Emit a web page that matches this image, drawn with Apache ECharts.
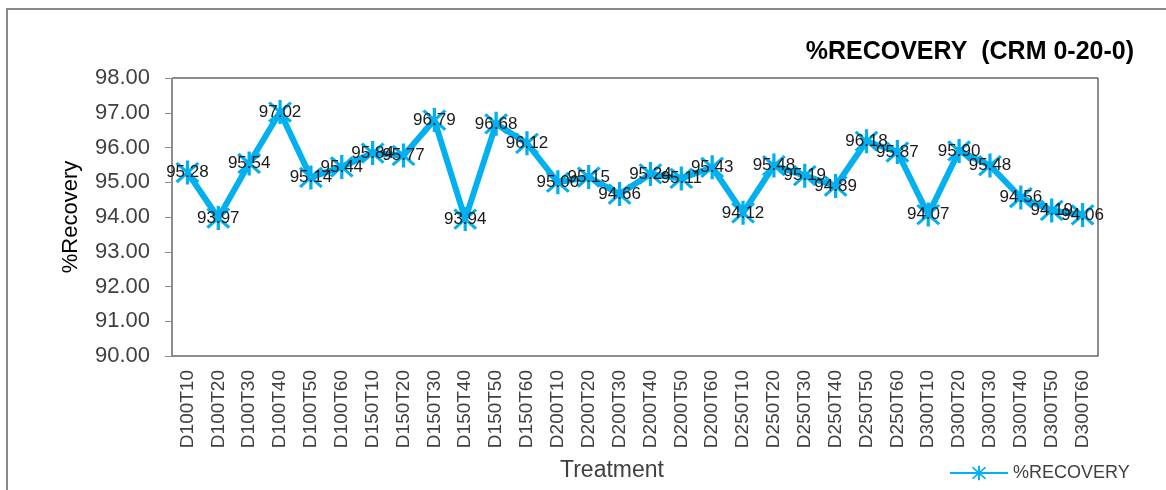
<!DOCTYPE html>
<html>
<head>
<meta charset="utf-8">
<script src="https://cdn.jsdelivr.net/npm/echarts@6/dist/echarts.min.js"></script>
<style>
  html, body { margin: 0; padding: 0; background: #fff; overflow: hidden; }
  #chart { width: 1166px; height: 490px; }
</style>
</head>
<body>
<div id="chart"></div>
<script>
// Treatment codes: dose level (D) x time (T)
const treatments = [
  'D100T10', 'D100T20', 'D100T30', 'D100T40', 'D100T50', 'D100T60',
  'D150T10', 'D150T20', 'D150T30', 'D150T40', 'D150T50', 'D150T60',
  'D200T10', 'D200T20', 'D200T30', 'D200T40', 'D200T50', 'D200T60',
  'D250T10', 'D250T20', 'D250T30', 'D250T40', 'D250T50', 'D250T60',
  'D300T10', 'D300T20', 'D300T30', 'D300T40', 'D300T50', 'D300T60'
];

// % recovery measured for each treatment
const recovery = [
  95.28, 93.97, 95.54, 97.02, 95.14, 95.44,
  95.84, 95.77, 96.79, 93.94, 96.68, 96.12,
  95.00, 95.15, 94.66, 95.24, 95.11, 95.43,
  94.12, 95.48, 95.19, 94.89, 96.18, 95.87,
  94.07, 95.90, 95.48, 94.56, 94.19, 94.06
];

const yMin = 90, yMax = 98, yStep = 1;
const FONT = '"Liberation Sans", Arial, sans-serif';
const BLUE = '#00B0F0';

// asterisk marker: one vertical bar and two diagonal bars
const starPath = 'path://M44,0 H56 V100 H44 Z ' +
  'M14.24,5.76 L94.24,85.76 L85.76,94.24 L5.76,14.24 Z ' +
  'M85.76,5.76 L94.24,14.24 L14.24,94.24 L5.76,85.76 Z';

const chart = echarts.init(document.getElementById('chart'), null, {
  renderer: 'canvas', width: 1166, height: 490
});

chart.setOption({
  backgroundColor: '#ffffff',
  animation: false,
  title: {
    text: '%RECOVERY  (CRM 0-20-0)',
    right: 27,
    top: 35,
    textStyle: { fontFamily: FONT, fontSize: 25, fontWeight: 'bold', color: '#000' }
  },
  graphic: [
    // outer frame: only the top and left edges fall inside the page
    {
      type: 'polyline',
      shape: { points: [[7, 490], [7, 9], [1166, 9]] },
      style: { fill: 'none', stroke: '#8a8a8a', lineWidth: 2 },
      silent: true
    }
  ],
  legend: {
    left: 944,
    top: 459,
    itemWidth: 58,
    itemHeight: 18,
    itemGap: 4,
    textStyle: { fontFamily: FONT, fontSize: 18, color: '#404040' },
    data: ['%RECOVERY']
  },
  grid: {
    left: 172,
    right: 68,
    top: 78,
    bottom: 134,
    show: true,
    borderColor: '#1a1a1a',
    borderWidth: 1
  },
  xAxis: {
    type: 'category',
    data: treatments,
    boundaryGap: true,
    name: 'Treatment',
    nameLocation: 'middle',
    nameGap: 103,
    nameTextStyle: { fontFamily: FONT, fontSize: 23, color: '#404040', padding: [0, 46, 0, 0] },
    axisLine: { lineStyle: { color: '#8c8c8c', width: 1 } },
    axisTick: { show: false },
    axisLabel: {
      rotate: 90,
      margin: 14,
      interval: 0,
      fontFamily: FONT,
      fontSize: 19,
      color: '#404040'
    },
    splitLine: { show: false }
  },
  yAxis: {
    type: 'value',
    min: yMin,
    max: yMax,
    interval: yStep,
    name: '%Recovery',
    nameLocation: 'middle',
    nameGap: 90,
    nameTextStyle: { fontFamily: FONT, fontSize: 22, color: '#000' },
    axisLine: { show: true, lineStyle: { color: '#8c8c8c', width: 1 } },
    axisTick: { show: true, inside: false, length: 7, lineStyle: { color: '#8c8c8c' } },
    axisLabel: {
      margin: 22,
      fontFamily: FONT,
      fontSize: 22,
      color: '#404040',
      formatter: v => v.toFixed(2)
    },
    splitLine: { show: false }
  },
  series: [
    {
      name: '%RECOVERY',
      type: 'line',
      data: recovery,
      color: BLUE,
      lineStyle: { color: BLUE, width: 6 },
      symbol: starPath,
      symbolSize: 24,
      itemStyle: { color: BLUE },
      label: {
        show: true,
        position: 'inside',
        fontFamily: FONT,
        fontSize: 17,
        color: '#1a1a1a',
        formatter: p => p.value.toFixed(2)
      },
      labelLayout: { hideOverlap: false },
      z: 3
    }
  ]
});
</script>
</body>
</html>
